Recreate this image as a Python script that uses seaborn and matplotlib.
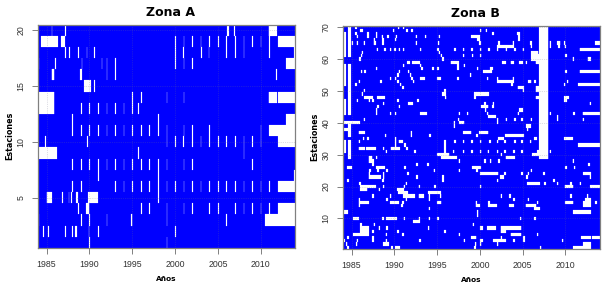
import numpy as np
import matplotlib
matplotlib.use('Agg')
import matplotlib.pyplot as plt
import seaborn as sns

anos_ticks = [1985, 1990, 1995, 2000, 2005, 2010]
estaciones_a_ticks = [5, 10, 15, 20]
estaciones_b_ticks = [10, 20, 30, 40, 50, 60, 70]
ano_ini = 1984
ano_fin = 2014

# huecos por estacion, de arriba (20) hacia abajo (1): numero = un mes, tupla = (desde, hasta)
huecos_a = [
    [1985.55, 1987.2, (2006.05, 2006.25), 2006.9, (2010.95, 2011.95)],
    [(1984.35, 1984.65), (1984.75, 1986.35), (1986.7, 1987.2), 2000, 2001, 2002, 2003, 2004, 2005, 2006, 2007, 2008,
     2009, 2010, 2011, (2012, 2012.9), (2013, 2014)],
    [1987.2, 1987.7, 1988.7, 1989.65, 1990.6, 2000, (2000.9, 2001), 2003.1, 2003.9, 2006, 2007, 2008, 2011, 2013.9],
    [1984, 1986, 1989.1, 1991.4, 1992, 1993, 2000, 2001, 2002, (2013, 2014)],
    [(1985.6, 1985.95), (1988.9, 1989.05), 1992, 1993, 2011.8],
    [(1989.45, 1990.2), 1990.6],
    [(1984.05, 1985.95), 1995, 1996, 1999, 2001, (2010.95, 2011.9), (2012, 2014)],
    [(1984.05, 1985.95), 1989, 1990, 1991, 1992, 1993, 1994, 1995, 1995.7],
    [1988, 1998, (2013, 2014)],
    [1988, 1989, 1990, 1991, 1992, 1993, 1994, 1995, 1996, 1997, 1998, 1999, 2001, 2002, 2004, 2010, (2011, 2014)],
    [1984.8, 1989.75, 1999, 2000, (2000.9, 2001), 2002, 2003, 2004, 2005, 2006, 2007, 2008, 2009, 2010,
     (2012, 2012.9), (2013, 2014)],
    [(1984.05, 1986.2), 1995.7, 2008],
    [1988, 1989, 1990, 1991, 1992, 1993, 1994, 1995, 1996, 1997, 1998, 1999, 2001, 2002, 2009],
    [1991, 1998, 2013.9],
    [1988, 1989, 1993, 1994, 1995, 1996, 1997, 1998, 1999, 2000, 2001, 2002, 2003, 2004, 2005, 2006, 2007, 2008, 2009,
     2010, 2011, (2012, 2012.9), (2013, 2014)],
    [(1985, 1985.55), 1986.8, 1987.6, 1987.8, (1988.4, 1988.7), (1989.85, 1991), 1998],
    [1988.7, (1989.55, 1990), 1996, 1997, 1999, 2001, 2002, 2004, 2005, 2007, 2008, 2009, 2010, 2011,
     (2012, 2012.9), (2013, 2014)],
    [1984, 1989, 1990, 1992, (1994.8, 1995), 1999, 2006, (2010.5, 2014)],
    [1984.55, 1985.2, 1987.2, 1988, (1988.3, 1988.5), (1989.9, 1990), 1991, 2000],
    [1990, 1999],
]

# huecos por estacion, de la 70 a la 1
huecos_b = [
    [1985.4, 1990.4, 1991.0],
    [(1986, 1986.3), 1989.8, 1991.4, 1992.0, 2000.0, 2000.7],
    [1985.4, 1986.8, 1987.8, (2001.4, 2001.7), (2004.3, 2004.7)],
    [1985.6, 1986.8, 1987.8, 1988.5, 1989.2, 1990.2, 1992.5, 1993.6, 1995.2, (1999, 2000), 2004.5],
    [1987.6, 1988.6, 1990.1, (1999.7, 2000), 2004.5],
    [(1985, 1985.2), 1985.6, 1986.4, (1987.6, 1987.8), 1988.6, 1992.5, 1995.1, 1999.9, 2002.2, 2003.8, (2005.8, 2006.1),
     2008.2, (2009, 2009.4), 2009.8, (2013.5, 2014)],
    [(2002, 2004), 2005.9, 2008.2, 2009.2, 2009.9],
    [1987.9, 1988.8, 1989.5, 1990, 1990.5, 1991, 1993, 1995, 1997, 1998, 1999, 2000, 2001, 2002, 2003, 2004, 2005,
     (2011.7, 2014)],
    [1986.2, 1995.2, (2006, 2006.8)],
    [1986.1, 1995.4, 1998, 1999.1, 2000, (2006, 2007), 2010],
    [1985.9, 1995.6, (2006, 2007), 2010.8, (2012.6, 2013)],
    [(1991.5, 1991.8), (1992.1, 1993), (1996.6, 1997.5), (2002.6, 2003), (2003.6, 2004), (2004.6, 2005), 2005.3,
     (2006.5, 2007)],
    [1991.0, 1993.0, 1997.3, 1998.1],
    [1987.8, 1993.2, 1994.4, 1995, 1997.3, 1999.7, (2001.2, 2001.5)],
    [1986.1, 1986.5, 1990.5, 1991.6, (2000.4, 2001.4), 2010, (2011.7, 2014)],
    [1990.3, 1991.8, 1998.8],
    [1989.5, 1990.1, 1992, (1993.0, 1993.6), (1995, 1995.4), 1997.3, 2000.8, 2002, 2003.8],
    [1985.8, 1988.3, 1990.3, 1992.2, (2002, 2004), (2005.7, 2006), 2006.3, (2007.7, 2008), 2010.2],
    [1985.4, 1990.7, 2003.7, 2007, 2009.8, (2011.5, 2014)],
    [1990.9, (2004.4, 2005.2), (2006.5, 2007)],
    [(1986.4, 1986.6), 1995.8, 2005.0, (2006.5, 2007)],
    [1986.2, (1995.6, 1996), (1999.3, 2001.1)],
    [(1986.5, 1987.5), (1988, 1988.9), 1995.9, 1999.3, (2006.5, 2007), (2009.8, 2010.4)],
    [1985.6, 1987, 1987.4, 1990.3, 1992.7, (2009.8, 2010.2)],
    [1988.7, (1991.6, 1992.2), 2000.5, 2001.5, 2012.8],
    [1988, 1990.5, (2000.2, 2001), (2001.4, 2001.7)],
    [1987.8, 2000.6, (2004.6, 2005)],
    [1987.8, 1989.5, 1990.1, (1993, 1993.8), 1997.5, 1998.5, 2000.8, 2004.4, 2008.2, 2010.9, (2012, 2014)],
    [(2001, 2001.8), 2009],
    [1986.4, 1997.4, 2002, 2003, 2004, 2004.8, 2005.9, 2007, 2009, 2012],
    [(1984.05, 1986), 1996.9, (1997.6, 1998.2), 2002],
    [1996.9, (2005.4, 2005.9)],
    [(1984.05, 1984.6), 2005.5],
    [(1985.8, 1986.6), 1991.9, (1998, 1999), (1999.9, 2001)],
    [(1988.9, 1989.1), 1991.9, 1994.1, 1999.6, (2002.9, 2005.2)],
    [1986.3, 1986.8, 1990.1, (2002.2, 2002.8), (2006.3, 2006.7), (2009.8, 2010.8)],
    [1985.8, 1990.1, (1990.5, 1991), 1995.8, 1997, 1998, 1999, 2000, 2001.1, 2002, 2002.8, 2004, 2004.8, 2005.8],
    [1990.1, 1991.2, 1995.8, (2011.5, 2014)],
    [(1985.8, 1986.6), (1986.7, 1987.8), 1988.7, (1989.6, 1990.7), 1991.4, 1995.8],
    [1989, 1992.3, 1995.8, 1996.8, 1998, 1999, 2000, 2000.9, 2002, 2002.8, 2003.9, 2004.8, (2006.7, 2007.1), 2008.2],
    [(1995, 1996.4), 2002.4, (2006.1, 2007)],
    [(1987.0, 1987.4), 1987.8, (1995.5, 1997.3), (2003, 2004.1)],
    [(1987, 1987.6), 1997.5, 2000.5, 2001.2, 2002.2, 2010.8],
    [1987.4, 1992.6, 1993.8, 2012.7],
    [(1984.5, 1985), (1987.8, 1988.9), 1991.2, (1999.1, 2000.1), 2010, 2011],
    [1987.1, 1988, 1989.1, 1994.6, 1997.5, 1999.6, 2005.9],
    [1987, 1988.7, 1991.5, (2000, 2002.2), 2002.8, 2004.8, 2005.6, 2007.4, (2012.1, 2013)],
    [(1987, 1988.4), 1988.7, 1992.6, 1995.6, (2002.3, 2002.8), 2005.4, 2012.8],
    [1984.5, 1988.6, 1995.6, 2002, 2008.6],
    [1985.9, 1991.3, (2005.5, 2007), 2007.5, 2009, 2010.6, 2011.7],
    [(1986, 1987.8), 1988.7, 1991.1, 1992.8, 1994.7, 2000, (2009.9, 2010.9), (2012.9, 2014)],
    [(1986, 1986.8), 1988.2, (1990.3, 1991.1)],
    [(1990.4, 1991.6), (1993.9, 1995.4)],
    [1987.4, 1989.5, (1991, 1992.4), (1992.8, 1993.4), 1994, 1995.3, 2002.4, 2003.4, 2010.6, 2012.5],
    [1985.8, 1989.1, 1991.3, 1994, 2003.9, 2005.6, (2012.3, 2013)],
    [(1985.8, 1987), (1989.5, 1990.5), 1990.9, (1995, 1995.5), 1999.5, 2001, 2006.7, (2010, 2010.9), (2012.1, 2013),
     2013.5],
    [1985.8, 1990.8, (1999.5, 2000), (2001, 2002), (2003.4, 2004), (2005.3, 2006.6), (2012.1, 2013)],
    [1994, (2006.3, 2007)],
    [(1984.05, 1984.6), 1999.7, (2010.9, 2013)],
    [1999.7],
    [(1985.2, 1985.8), 1988.6, (1989.1, 1990.3), 1991.1, 1992.8, 1994, 1995, 2004.7, 2006.3],
    [(1992.2, 1993)],
    [1986, 1987.6, 1999.2],
    [(1986, 1987), 1988.2, 1989.1, 1993.9, (2000, 2000.3), (2000.8, 2001.8), (2002.4, 2004.8)],
    [(1986, 1987), 1987.4, 1990.3, 1995.8, (2002.4, 2003)],
    [(1985.2, 1987), 1989, 1990.9, 1997.5, (2003.6, 2004.8), 2006.7],
    [1984.5, 1987.4, (1999, 1999.6), 2002.4, 2005.1, (2011.8, 2013), (2013.1, 2014)],
    [1984.05, 1985.6, 1987.4, 1989, 1992.9, 1998.1, (2000, 2000.3), (2001.6, 2003), 2003.9, 2005.1, 2009.6],
    [1984.3, 1985.5, (1988.7, 1989.3), 1999.4, 2000, 2002, (2012.1, 2013)],
    [1984.5, 1989.7, (1990.1, 1990.7), 1999.3, 2007, (2010.9, 2013)],
]

# franjas largas de zona B: (estacion arriba, estacion abajo, desde, hasta)
franjas_b = [
    (70, 61, 1984.55, 1984.95), (58, 43, 1984.55, 1984.95), (39, 36, 1984.55, 1984.95), (34, 29, 1984.55, 1984.95),
    (68, 61, 1984.15, 1984.3), (58, 52, 1984.15, 1984.3), (47, 43, 1984.15, 1984.3), (34, 31, 1984.15, 1984.3),
    (70, 29, 2006.95, 2007.97),
]


def mes(ano):
    return int(round((ano - ano_ini) * 12))


def armar_matriz(huecos, franjas=(), meses_hueco=1):
    n = len(huecos)
    m = np.zeros((n, (ano_fin - ano_ini) * 12))
    for i, fila in enumerate(huecos):
        for h in fila:
            if isinstance(h, tuple):
                m[i, mes(h[0]):mes(h[1])] = 1
            else:
                m[i, mes(h):mes(h) + meses_hueco] = 1
    for arriba, abajo, desde, hasta in franjas:
        m[n - arriba:n - abajo + 1, mes(desde):mes(hasta)] = 1
    return m


def panel(fig, caja, matriz, titulo, yticks):
    W, H = 608, 286
    x0, x1, y0, y1 = caja
    ax = fig.add_axes([x0 / W, 1 - y1 / H, (x1 - x0) / W, (y1 - y0) / H])
    ax.set_facecolor('#0000ff')
    n = matriz.shape[0]
    sns.heatmap(matriz, mask=matriz == 0, cmap=['white'], vmin=0, vmax=1, cbar=False, ax=ax,
                linewidths=0.12, linecolor='face', antialiased=True)
    for s in ax.spines.values():
        s.set_visible(True)
        s.set_color('#808080')
        s.set_linewidth(0.9)
    ax.set_xticks([(a - ano_ini) * 12 for a in anos_ticks])
    ax.set_xticklabels(anos_ticks, rotation=0)
    ax.set_yticks([n - e + 0.5 for e in yticks])
    ax.set_yticklabels(yticks, rotation=90, va='center')
    ax.tick_params(length=4.3, width=0.7, color='#808080', labelcolor='#333333', labelsize=6.3,
                   pad=4.5, labelfontfamily='Liberation Sans')
    ax.grid(True, color='#707090', alpha=0.45, linestyle=':', linewidth=0.5)
    ax.set_title(titulo, fontsize=9, fontweight='bold', fontfamily='DejaVu Sans', x=0.515, pad=6)
    ax.set_xlabel('Años', fontsize=5.3, fontweight='bold', fontfamily='DejaVu Sans', labelpad=5)
    ax.set_ylabel('Estaciones', fontsize=5.8, fontweight='bold', fontfamily='DejaVu Sans', labelpad=1.5)
    return ax


if __name__ == '__main__':
    fig = plt.figure(figsize=(6.08, 2.86), dpi=100)
    panel(fig, (38, 295, 24.5, 248), armar_matriz(huecos_a), 'Zona A', estaciones_a_ticks)
    panel(fig, (343, 599.7, 25.5, 248.7), armar_matriz(huecos_b, franjas_b, meses_hueco=2), 'Zona B',
          estaciones_b_ticks)
    fig.savefig('out.png', dpi=100)
